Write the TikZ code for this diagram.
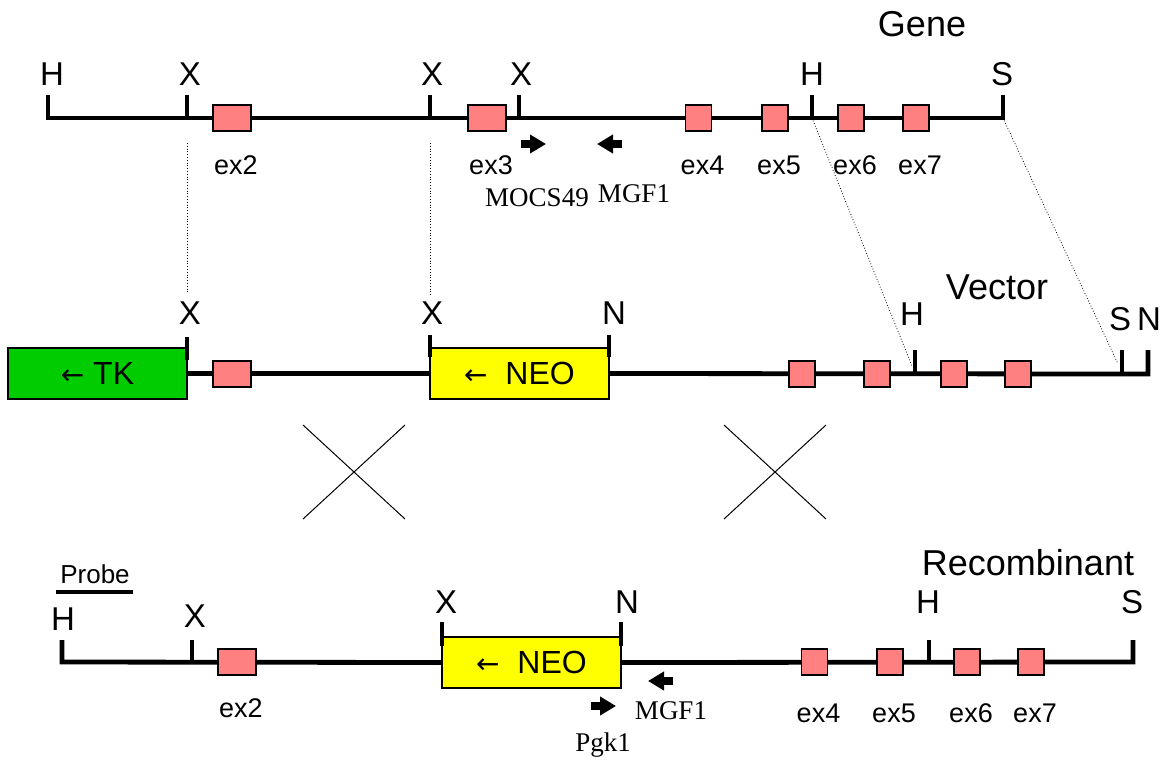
\documentclass[tikz,border=0pt]{standalone}
\usepackage{fontspec}
\setmainfont{Liberation Sans}
\newfontfamily\primerfont{Liberation Serif}
\newfontfamily\arrowfont{DejaVu Sans}
\definecolor{exonpink}{RGB}{255,128,128}
\definecolor{tkgreen}{RGB}{0,204,0}
\definecolor{neoyellow}{RGB}{255,255,0}
\usetikzlibrary{arrows.meta, positioning}
\newcommand{\revarrow}{{\arrowfont\fontsize{28}{34}\selectfont ←}}

\begin{document}
\begin{tikzpicture}[
  x=1pt, y=-1pt,
  dna/.style={line width=4.8pt, line join=miter},
  cut/.style={line width=4.3pt},
  exon/.style={draw, line width=1.2pt, fill=exonpink, minimum width=26pt,
               minimum height=26pt, inner sep=0pt},
  wideexon/.style={exon, minimum width=38pt},
  cassette/.style={draw, line width=1.2pt, minimum width=179pt, minimum height=51pt,
                   inner sep=0pt, font=\fontsize{32}{38}\selectfont},
  site/.style={inner sep=0pt, anchor=base, font=\fontsize{33}{40}\selectfont},
  exlbl/.style={inner sep=0pt, xshift=4pt, font=\fontsize{27}{32}\selectfont},
  rowlbl/.style={inner sep=0pt, font=\fontsize{36}{43}\selectfont},
  plbl/.style={inner sep=0pt, font=\primerfont\fontsize{27}{32}\selectfont},
  primer/.style={line width=8pt, -{Triangle[length=16pt, width=18pt]}},
  homol/.style={line width=0.8pt, dotted},
  xover/.style={line width=1pt}
]
\useasboundingbox (0,0) rectangle (1169,761);

% Gene
\node[rowlbl] (gene) at (922,24) {Gene};
\coordinate (gH1) at (48,118);  \coordinate (gS) at (1003,118);
\coordinate (gX1) at (187,118); \coordinate (gX2) at (430,118);
\coordinate (gX3) at (519,118); \coordinate (gH2) at (812,118);
\draw[dna] (48,95) -- (gH1) -- (gS) -- (1003,95);
\draw[cut] (gX1) -- ++(0,-23);
\draw[cut] (gX2) -- ++(0,-23);
\draw[cut] (gX3) -- ++(0,-23);
\draw[cut] (gH2) -- ++(0,-23);
\node[site] (gH1l) at (52,85) {H};
\node[site] (gX1l) at (190,85) {X};
\node[site] (gX2l) at (432,85) {X};
\node[site] (gX3l) at (521,85) {X};
\node[site] (gH2l) at (812,85) {H};
\node[site] (gSl) at (1002,85) {S};
\node[wideexon] (g2) at (232,118) {};
\node[wideexon] (g3) at (487,118) {};
\node[exon] (g4) at (698.5,118) {};
\node[exon] (g5) at (775,118) {};
\node[exon] (g6) at (851,118) {};
\node[exon] (g7) at (916,118) {};
\node[exlbl, below=24pt of g2] {ex2};
\node[exlbl, below=24pt of g3] {ex3};
\node[exlbl, below=24pt of g4] {ex4};
\node[exlbl, below=24pt of g5] {ex5};
\node[exlbl, below=24pt of g6] {ex6};
\node[exlbl, below=24pt of g7] {ex7};
\coordinate (p1a) at (521,144); \coordinate (p1b) at (546,144);
\coordinate (p2a) at (622,144); \coordinate (p2b) at (597,144);
\draw[primer] (p1a) -- (p1b);
\draw[primer] (p2a) -- (p2b);
\node[plbl] (mocs) at (537,198) {MOCS49};
\node[plbl] (mgf) at (634,194) {MGF1};

% Vector
\node[rowlbl] (vector) at (997,287) {Vector};
\node[cassette, fill=tkgreen] (tk) at (97.5,373.5) {\revarrow\ TK};
\node[cassette, fill=neoyellow] (neo) at (519.5,373.5) {\revarrow\ \ NEO};
\coordinate (vN2) at (1148,374);
\draw[dna] (tk.east) -- (neo.west);
\draw[dna] (neo.east) -- (vN2) -- (1148,350);
\coordinate (vX1) at (187,360); \coordinate (vX2) at (430,357);
\coordinate (vN1) at (609,357); \coordinate (vH) at (915,374);
\coordinate (vS) at (1122,374);
\draw[cut] (vX1) -- ++(0,-23);
\draw[cut] (vX2) -- ++(0,-22);
\draw[cut] (vN1) -- ++(0,-22);
\draw[cut] (vH) -- ++(0,-24);
\draw[cut] (vS) -- ++(0,-24);
\node[site] (vX1l) at (190,324) {X};
\node[site] (vX2l) at (432,324) {X};
\node[site] (vN1l) at (614,324) {N};
\node[site] (vHl) at (912,325) {H};
\node[site] (vSl) at (1120,330) {S};
\node[site] (vN2l) at (1149,330) {N};
\node[wideexon] (v2) at (232,374) {};
\node[exon] (v4) at (802,374) {};
\node[exon] (v5) at (877,374) {};
\node[exon] (v6) at (954,374) {};
\node[exon] (v7) at (1018,374) {};

% homology
\draw[homol] (187,143) -- (187,292);
\draw[homol] (430,143) -- (430,296);
\draw[homol] (gH2) -- (912,366);
\draw[homol] (gS) -- (1118,364);

% crossovers
\draw[xover] (303,425) -- (405,519);
\draw[xover] (303,519) -- (405,425);
\draw[xover] (724,425) -- (826,519);
\draw[xover] (724,519) -- (826,425);

% Recombinant
\node[rowlbl] (recomb) at (1028,563) {Recombinant};
\node[inner sep=0pt, font=\fontsize{26}{31}\selectfont] (probe) at (95,574) {Probe};
\draw[line width=4pt] (56,592) -- (133,592);
\node[cassette, fill=neoyellow] (neo2) at (531.5,662.5) {\revarrow\ \ NEO};
\coordinate (rH1) at (62,662); \coordinate (rS) at (1133,662);
\draw[dna] (62,640) -- (rH1) -- (neo2.west);
\draw[dna] (neo2.east) -- (rS) -- (1133,640);
\coordinate (rX1) at (192,662); \coordinate (rX2) at (442,646);
\coordinate (rN) at (621,646); \coordinate (rH2) at (929,662);
\draw[cut] (rX1) -- ++(0,-22);
\draw[cut] (rX2) -- ++(0,-24);
\draw[cut] (rN) -- ++(0,-24);
\draw[cut] (rH2) -- ++(0,-22);
\node[site] (rH1l) at (63,630) {H};
\node[site] (rX1l) at (195,627) {X};
\node[site] (rX2l) at (446,613) {X};
\node[site] (rNl) at (627,613) {N};
\node[site] (rH2l) at (928,613) {H};
\node[site] (rSl) at (1132,613) {S};
\node[wideexon] (r2) at (237,662) {};
\node[exon] (r4) at (814.5,662) {};
\node[exon] (r5) at (890,662) {};
\node[exon] (r6) at (967,662) {};
\node[exon] (r7) at (1031,662) {};
\node[exlbl, below=23pt of r2] {ex2};
\node[exlbl, below=28pt of r4] {ex4};
\node[exlbl, below=28pt of r5] {ex5};
\node[exlbl, below=28pt of r6] {ex6};
\node[exlbl, below=28pt of r7] {ex7};
\coordinate (p3a) at (673,681); \coordinate (p3b) at (648,681);
\coordinate (p4a) at (591,706); \coordinate (p4b) at (616,706);
\draw[primer] (p3a) -- (p3b);
\draw[primer] (p4a) -- (p4b);
\node[plbl] (mgf2) at (671,711) {MGF1};
\node[plbl] (pgk) at (603,745) {Pgk1};
\end{tikzpicture}
\end{document}
